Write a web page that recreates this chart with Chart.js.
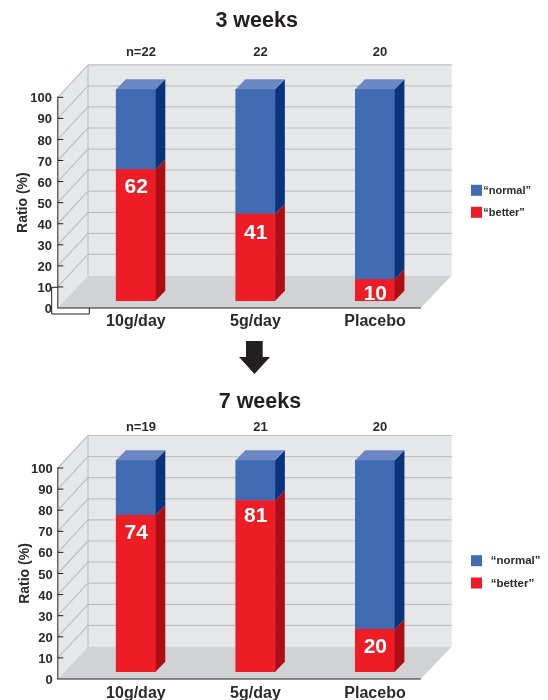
<!DOCTYPE html>
<html>
<head>
<meta charset="utf-8">
<title>Ratio at 3 and 7 weeks</title>
<script src="https://cdn.jsdelivr.net/npm/chart.js@4/dist/chart.umd.js"></script>
<style>
  html, body { margin: 0; padding: 0; background: #fff; }
  #page { position: relative; width: 548px; height: 700px; overflow: hidden; }
  canvas { position: absolute; left: 0; display: block; }
</style>
</head>
<body>
<div id="page">
  <canvas id="weeks3" width="548" height="380" style="top:0"></canvas>
  <canvas id="weeks7" width="548" height="320" style="top:380px"></canvas>
</div>
<script>
const categories = ['10g/day', '5g/day', 'Placebo'];
const yTickValues = [0, 10, 20, 30, 40, 50, 60, 70, 80, 90, 100];

const better3 = [62, 41, 10];
const normal3 = [38, 59, 90];
const counts3 = ['n=22', '22', '20'];

const better7 = [74, 81, 20];
const normal7 = [26, 19, 80];
const counts7 = ['n=19', '21', '20'];

const INK = '#231F20';
const TEXT = '#2B2A2A';
const WALL = '#E6E7E8';
const FLOOR = '#D0D2D3';
const GRID = '#BEC0C2';
const BLUE = '#416BB3';
const BLUE_TOP = '#6C88C4';
const BLUE_SIDE = '#09347D';
const RED = '#EE1C25';
const RED_SIDE = '#AD0D14';

const AXIS_X = 57.8;        // front edge of the box, where the value axis stands
const FLOOR_W = 363;        // length of the front floor edge
const BACK_W = 363.7;       // length of the back wall
const DEPTH_X = 30.2;
const DEPTH_Y = -32.5;
const BAR_DX = 9.7;         // depth of each bar
const BAR_DY = -10;
const PLOT_LEFT = 76.1;
const PLOT_RIGHT = 434.8;
const X_AXIS_H = 23;
const FONT = '"Liberation Sans", Arial, sans-serif';

Chart.defaults.font.family = FONT;
Chart.defaults.color = TEXT;

function poly(ctx, pts, fill) {
  ctx.beginPath();
  pts.forEach((p, i) => (i ? ctx.lineTo(p[0], p[1]) : ctx.moveTo(p[0], p[1])));
  ctx.closePath();
  ctx.fillStyle = fill;
  ctx.fill();
}

function seg(ctx, x1, y1, x2, y2) {
  ctx.beginPath();
  ctx.moveTo(x1, y1);
  ctx.lineTo(x2, y2);
  ctx.stroke();
}

// Box behind the bars: back wall, left wall, floor, gridlines and value axis.
const boxPlugin = {
  id: 'box3d',
  beforeDraw(chart) {
    const { ctx } = chart;
    const y = chart.scales.y;
    const y0 = y.getPixelForValue(0);
    const y100 = y.getPixelForValue(100);
    const backX = AXIS_X + DEPTH_X;
    ctx.save();
    ctx.fillStyle = WALL;
    ctx.fillRect(backX, y100 + DEPTH_Y, BACK_W, y0 - y100);
    poly(ctx, [[AXIS_X, y100], [backX, y100 + DEPTH_Y], [backX, y0 + DEPTH_Y], [AXIS_X, y0]], WALL);
    poly(ctx, [[AXIS_X, y0], [AXIS_X + FLOOR_W, y0], [backX + BACK_W, y0 + DEPTH_Y], [backX, y0 + DEPTH_Y]], FLOOR);

    ctx.strokeStyle = GRID;
    ctx.lineWidth = 1.2;
    y.ticks.forEach(t => {
      if (t.value === 0) return;
      const py = y.getPixelForValue(t.value);
      seg(ctx, AXIS_X, py, backX, py + DEPTH_Y);
      seg(ctx, backX, py + DEPTH_Y, backX + BACK_W, py + DEPTH_Y);
    });
    seg(ctx, backX, y100 + DEPTH_Y, backX, y0 + DEPTH_Y);

    ctx.strokeStyle = INK;
    ctx.lineWidth = 1;
    seg(ctx, AXIS_X, y100 - 0.5, AXIS_X, y0 + 0.5);
    seg(ctx, AXIS_X, y0, AXIS_X + FLOOR_W, y0);
    y.ticks.forEach(t => {
      if (t.value === 0) return;
      const py = y.getPixelForValue(t.value);
      seg(ctx, AXIS_X, py, AXIS_X + 5.5, py);
    });
    ctx.restore();
  }
};

// Side and top faces of the bars, taken from the bars the library has placed.
const barFacesPlugin = {
  id: 'barFaces',
  afterDatasetsDraw(chart) {
    const { ctx } = chart;
    const sides = [RED_SIDE, BLUE_SIDE];
    ctx.save();
    chart.data.datasets.forEach((ds, di) => {
      chart.getDatasetMeta(di).data.forEach(bar => {
        const r = bar.x + bar.width / 2;
        const l = bar.x - bar.width / 2;
        poly(ctx, [[r, bar.y], [r + BAR_DX, bar.y + BAR_DY], [r + BAR_DX, bar.base + BAR_DY], [r, bar.base]], sides[di]);
        if (di === chart.data.datasets.length - 1) {
          poly(ctx, [[l, bar.y], [l + BAR_DX, bar.y + BAR_DY], [r + BAR_DX, bar.y + BAR_DY], [r, bar.y]], BLUE_TOP);
        }
      });
    });
    ctx.restore();
  }
};

// White value figures inside the red part of each bar.
const valueLabelPlugin = {
  id: 'valueLabels',
  afterDatasetsDraw(chart, args, opts) {
    const { ctx } = chart;
    const ds = chart.data.datasets[0];
    ctx.save();
    ctx.font = 'bold 21px ' + FONT;
    ctx.fillStyle = '#FFFFFF';
    ctx.textAlign = 'center';
    ctx.textBaseline = 'middle';
    chart.getDatasetMeta(0).data.forEach((bar, i) => {
      ctx.fillText(String(ds.data[i]), bar.x + 0.3, bar.y + opts.drop[i]);
    });
    ctx.restore();
  }
};

// Key at the right, plus the arrow and axis bracket of the upper panel.
const extrasPlugin = {
  id: 'extras',
  afterLayout(chart, args, opts) {
    chart.titleBlock.left += opts.titleShift;
    chart.titleBlock.right += opts.titleShift;
  },
  afterDraw(chart, args, opts) {
    const { ctx } = chart;
    ctx.save();
    const order = [1, 0];
    order.forEach((di, row) => {
      const ds = chart.data.datasets[di];
      const cy = opts.keyY[row];
      ctx.fillStyle = ds.backgroundColor;
      ctx.fillRect(471, cy - 5.5, 11, 11);
      ctx.fillStyle = TEXT;
      ctx.font = 'bold ' + opts.keyFont + 'px ' + FONT;
      ctx.textAlign = 'left';
      ctx.textBaseline = 'middle';
      ctx.fillText(ds.label, opts.keyTextX, cy + 0.6);
    });
    if (opts.bracket) {
      ctx.strokeStyle = INK;
      ctx.lineWidth = 1;
      ctx.beginPath();
      ctx.moveTo(57.8, 287.3);
      ctx.lineTo(51.7, 287.3);
      ctx.lineTo(51.7, 314);
      ctx.lineTo(89.3, 314);
      ctx.lineTo(89.3, 308);
      ctx.stroke();
    }
    if (opts.arrow) {
      poly(ctx, [[246, 341], [262.7, 341], [262.7, 357], [270, 357], [254.5, 374], [239, 357], [246, 357]], INK);
    }
    ctx.restore();
  }
};

function fixedHeight(h) {
  return scale => { scale.height = h; };
}

function panel(id, p) {
  const H = document.getElementById(id).height;
  const titleH = 21.5 * 1.2 + p.titleTop;
  const zeroOffset = 7.3;   // bars stand this far behind the front edge
  const unit = 2.114;
  const span = p.bottom - p.top;
  return new Chart(document.getElementById(id), {
    type: 'bar',
    data: {
      labels: categories,
      datasets: [
        { label: '\u201Cbetter\u201D', data: p.better, backgroundColor: RED, yAxisID: 'yBars', xAxisID: 'x', barThickness: 39.4, borderWidth: 0, clip: false },
        { label: '\u201Cnormal\u201D', data: p.normal, backgroundColor: BLUE, yAxisID: 'yBars', xAxisID: 'x', barThickness: 39.4, borderWidth: 0, clip: false }
      ]
    },
    options: {
      responsive: false,
      animation: false,
      devicePixelRatio: 1,
      events: [],
      layout: {
        padding: { left: 0, top: 0, right: 548 - PLOT_RIGHT, bottom: H - p.bottom - X_AXIS_H }
      },
      scales: {
        x: {
          type: 'category',
          position: 'bottom',
          stacked: true,
          offset: true,
          grid: { display: false, drawTicks: false },
          border: { display: false },
          afterFit: fixedHeight(X_AXIS_H),
          ticks: { color: TEXT, font: { size: 16, weight: 'bold' }, padding: p.xPad, maxRotation: 0, autoSkip: false }
        },
        xTop: {
          type: 'category',
          position: 'top',
          labels: p.counts,
          offset: true,
          grid: { display: false, drawTicks: false },
          border: { display: false },
          afterFit: fixedHeight(p.top - titleH),
          ticks: { color: TEXT, font: { size: 13, weight: 'bold' }, padding: p.countPad, labelOffset: 5, maxRotation: 0, autoSkip: false }
        },
        y: {
          type: 'linear',
          position: 'left',
          min: 0,
          max: 100,
          grid: { display: false, drawTicks: false },
          border: { display: false },
          afterBuildTicks: scale => { scale.ticks = yTickValues.map(value => ({ value })); },
          afterFit: scale => {
            scale.width = PLOT_LEFT;
            scale.paddingTop = 0;
            scale.paddingBottom = 0;
          },
          ticks: { color: TEXT, font: { size: 13, weight: 'bold' }, padding: p.yPad, labelOffset: 1.5 },
          title: {
            display: true,
            text: 'Ratio (%)',
            color: TEXT,
            font: { size: 14, weight: 'bold' },
            padding: { top: p.yTitleInset, bottom: 0 }
          }
        },
        yBars: {
          type: 'linear',
          display: false,
          stacked: true,
          min: -zeroOffset / unit,
          max: (span - zeroOffset) / unit
        }
      },
      plugins: {
        legend: { display: false },
        tooltip: { enabled: false },
        title: {
          display: true,
          text: p.title,
          fullSize: false,
          color: INK,
          font: { size: 21.5, weight: 'bold' },
          padding: { top: p.titleTop, bottom: 0 }
        },
        valueLabels: { drop: p.drop },
        extras: {
          titleShift: p.titleShift,
          keyY: p.keyY,
          keyFont: p.keyFont,
          keyTextX: p.keyTextX,
          bracket: p.bracket,
          arrow: p.arrow
        }
      }
    },
    plugins: [boxPlugin, barFacesPlugin, valueLabelPlugin, extrasPlugin]
  });
}

panel('weeks3', {
  title: '3 weeks', better: better3, normal: normal3, counts: counts3,
  top: 97.3, bottom: 308, titleTop: 8.1, titleShift: 1.2,
  xPad: 4.1, countPad: 36.7, yPad: 24.2, yTitleInset: 15.2,
  drop: [17.2, 19.5, 14.2],
  keyY: [190.3, 212.3], keyFont: 11, keyTextX: 483.3,
  bracket: true, arrow: true
});

panel('weeks7', {
  title: '7 weeks', better: better7, normal: normal7, counts: counts7,
  top: 88, bottom: 299, titleTop: 9.1, titleShift: 4.5,
  xPad: 4.7, countPad: 32.5, yPad: 23.4, yTitleInset: 16.3,
  drop: [17.9, 16.2, 18.2],
  keyY: [180.7, 203], keyFont: 11.5, keyTextX: 490.7,
  bracket: false, arrow: false
});
</script>
</body>
</html>
